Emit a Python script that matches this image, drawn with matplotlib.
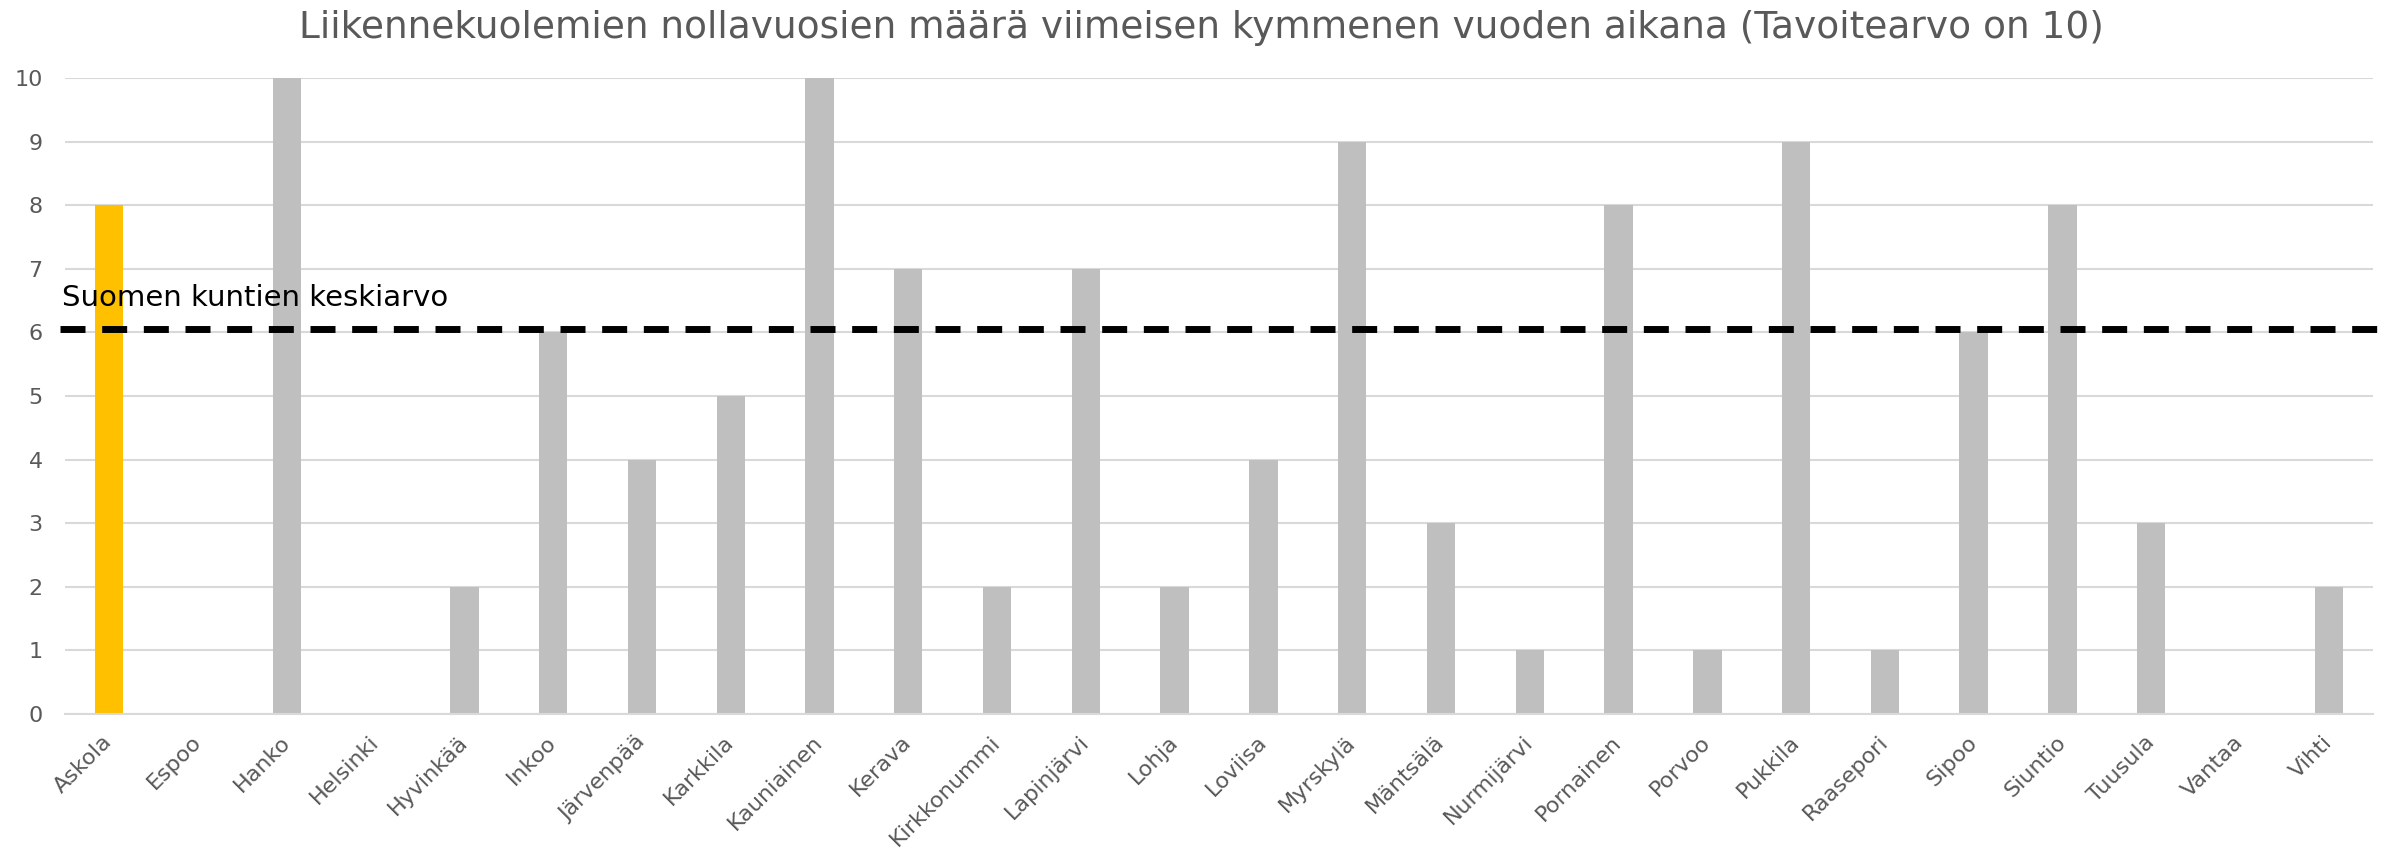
import matplotlib
matplotlib.use("Agg")
import matplotlib.pyplot as plt

municipalities = ["Askola", "Espoo", "Hanko", "Helsinki", "Hyvinkää", "Inkoo",
                  "Järvenpää", "Karkkila", "Kauniainen", "Kerava", "Kirkkonummi",
                  "Lapinjärvi", "Lohja", "Loviisa", "Myrskylä", "Mäntsälä",
                  "Nurmijärvi", "Pornainen", "Porvoo", "Pukkila", "Raasepori",
                  "Sipoo", "Siuntio", "Tuusula", "Vantaa", "Vihti"]
zero_years = [8, 0, 10, 0, 2, 6, 4, 5, 10, 7, 2, 7, 2, 4, 9, 3, 1, 8, 1, 9, 1, 6, 8, 3, 0, 2]
highlight = "Askola"
finland_average = 6.05

title = "Liikennekuolemien nollavuosien määrä viimeisen kymmenen vuoden aikana (Tavoitearvo on 10)"
avg_label = "Suomen kuntien keskiarvo"

text_gray = "#595959"
grid_gray = "#D9D9D9"

fig = plt.figure(figsize=(24.02, 8.63), dpi=100)
ax = fig.add_axes([0.027, 0.1727, 0.961, 0.737])

# bar colours: highlighted municipality in yellow, others gray
colors = ["#FFC000" if m == highlight else "#BFBFBF" for m in municipalities]
x = range(len(municipalities))
ax.bar(x, zero_years, width=0.32, color=colors, zorder=2)

ax.set_xlim(-0.5, len(municipalities) - 0.5)
ax.set_ylim(0, 10)
ax.set_yticks(range(0, 11))
ax.grid(axis="y", color=grid_gray, linewidth=1.5, zorder=0)
ax.set_axisbelow(True)

for side in ["top", "right", "left"]:
    ax.spines[side].set_visible(False)
ax.spines["bottom"].set_color(grid_gray)
ax.spines["bottom"].set_linewidth(1.5)

ax.tick_params(axis="y", length=0, pad=16, labelsize=16, labelcolor=text_gray)
ax.tick_params(axis="x", length=0, pad=18, labelsize=16, labelcolor=text_gray)
ax.set_xticks(list(x))
ax.set_xticklabels(municipalities, rotation=45, ha="right", va="center",
                   rotation_mode="anchor")

# average line and its label
ax.axhline(finland_average, color="black", linewidth=5, linestyle=(0, (3.6, 2.4)),
           xmin=-0.002, xmax=1.003, clip_on=False, zorder=3)
ax.text(-0.53, finland_average + 0.27, avg_label, fontsize=21, color="black",
        ha="left", va="bottom")

fig.suptitle(title, fontsize=27, color=text_gray, y=0.968, va="center")

fig.savefig("out.png", dpi=100)
